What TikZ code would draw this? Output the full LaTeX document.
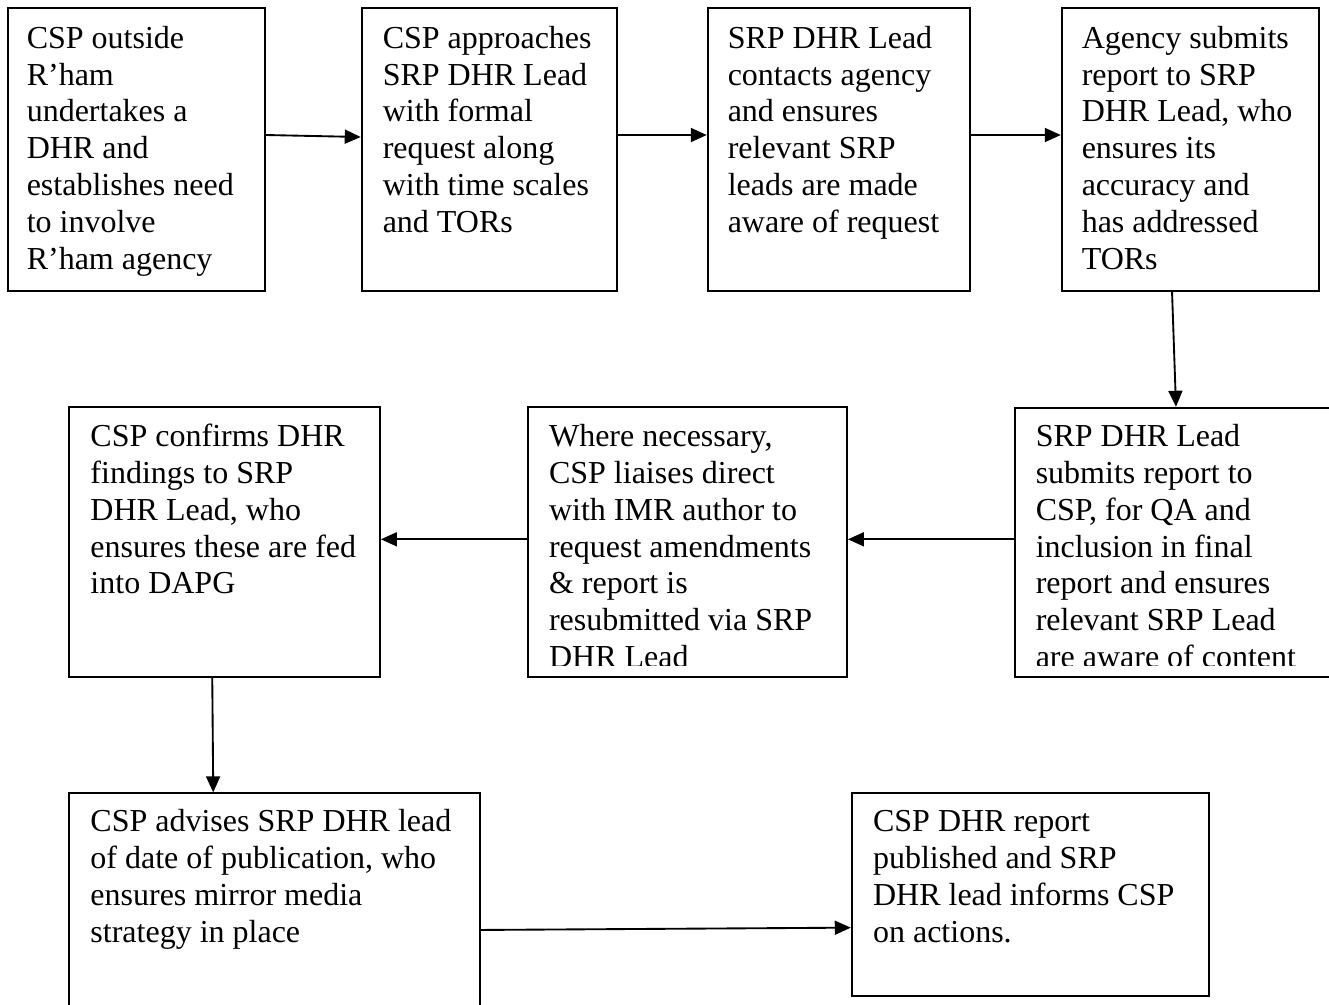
\documentclass[tikz,border=0pt]{standalone}
\usepackage{fontspec}
\setmainfont{Liberation Serif}
\usetikzlibrary{arrows.meta,calc,fit}
\tikzset{
  box/.style={draw=black, line width=1.4pt, inner sep=0pt, rectangle},
  txt/.style={anchor=base west, inner sep=0pt},
  flow/.style={draw=black, line width=1.4pt, -{Triangle[length=12pt,width=10.5pt]}}
}
\newcommand{\boxtext}[1]{\parbox[t]{500pt}{\fontsize{24}{27.6}\selectfont #1}}
\begin{document}
\begin{tikzpicture}[x=0.75pt,y=-0.75pt]
\useasboundingbox (0,0) rectangle (1329,1004);
% boxes
\node[box, fit={(8,8) (265,291)}] (b1) {};
\node[box, fit={(361.7,8) (616.7,291)}] (b2) {};
\node[box, fit={(707.7,8) (970,291)}] (b3) {};
\node[box, fit={(1061.7,8) (1319,291)}] (b4) {};
\node[box, fit={(1015,407.7) (1340,676.7)}] (b5) {};
\node[box, fit={(528.3,407.3) (847,676.7)}] (b6) {};
\node[box, fit={(69.3,407.3) (380,676.7)}] (b7) {};
\node[box, fit={(69.3,793.3) (480,1012)}] (b8) {};
\node[box, fit={(851.7,793.3) (1209.3,996)}] (b9) {};
% texts
\node[txt] (t1) at (26.5,48.3) {\boxtext{CSP outside\\R’ham\\undertakes a\\DHR and\\establishes need\\to involve\\R’ham agency}};
\node[txt] (t2) at (382.5,48.3) {\boxtext{CSP approaches\\SRP DHR Lead\\with formal\\request along\\with time scales\\and TORs}};
\node[txt] (t3) at (727.5,48.3) {\boxtext{SRP DHR Lead\\contacts agency\\and ensures\\relevant SRP\\leads are made\\aware of request}};
\node[txt] (t4) at (1081.5,48.3) {\boxtext{Agency submits\\report to SRP\\DHR Lead, who\\ensures its\\accuracy and\\has addressed\\TORs}};
\begin{scope}
\clip (1015,408) rectangle (1340,665.5);
\node[txt] (t5) at (1035.5,446.6) {\boxtext{SRP DHR Lead\\submits report to\\CSP, for QA and\\inclusion in final\\report and ensures\\relevant SRP Lead\\are aware of content}};
\end{scope}
\begin{scope}
\clip (528,408) rectangle (847,665.5);
\node[txt] (t6) at (548.8,446.6) {\boxtext{Where necessary,\\CSP liaises direct\\with IMR author to\\request amendments\\\&\ report is\\resubmitted via SRP\\DHR Lead}};
\end{scope}
\node[txt] (t7) at (90.2,446.6) {\boxtext{CSP confirms DHR\\findings to SRP\\DHR Lead, who\\ensures these are fed\\into DAPG}};
\node[txt] (t8) at (90.2,831.7) {\boxtext{CSP advises SRP DHR lead\\of date of publication, who\\ensures mirror media\\strategy in place}};
\node[txt] (t9) at (872.8,831.7) {\boxtext{CSP DHR report\\published and SRP\\DHR lead informs CSP\\on actions.}};
% connectors
\draw[flow] ($(b1.east)+(0,-14.5)$) -- ($(b2.west)+(0,-12.5)$);
\draw[flow] ($(b2.east)+(0,-14.5)$) -- ($(b3.west)+(0,-14.5)$);
\draw[flow] ($(b3.east)+(0,-14.5)$) -- ($(b4.west)+(0,-14.5)$);
\draw[flow] ($(b4.south)+(-18.3,0)$) -- ($(b5.north)+(-1.5,0)$);
\draw[flow] ($(b5.west)+(0,-2.9)$) -- ($(b6.east)+(0,-2.7)$);
\draw[flow] ($(b6.west)+(0,-2.7)$) -- ($(b7.east)+(0,-2.7)$);
\draw[flow] ($(b7.south)+(-12.4,0)$) -- ($(b8.north)+(-61.4,0)$);
\draw[flow] ($(b8.east)+(0,27.3)$) -- ($(b9.west)+(0,33)$);
\end{tikzpicture}
\end{document}
